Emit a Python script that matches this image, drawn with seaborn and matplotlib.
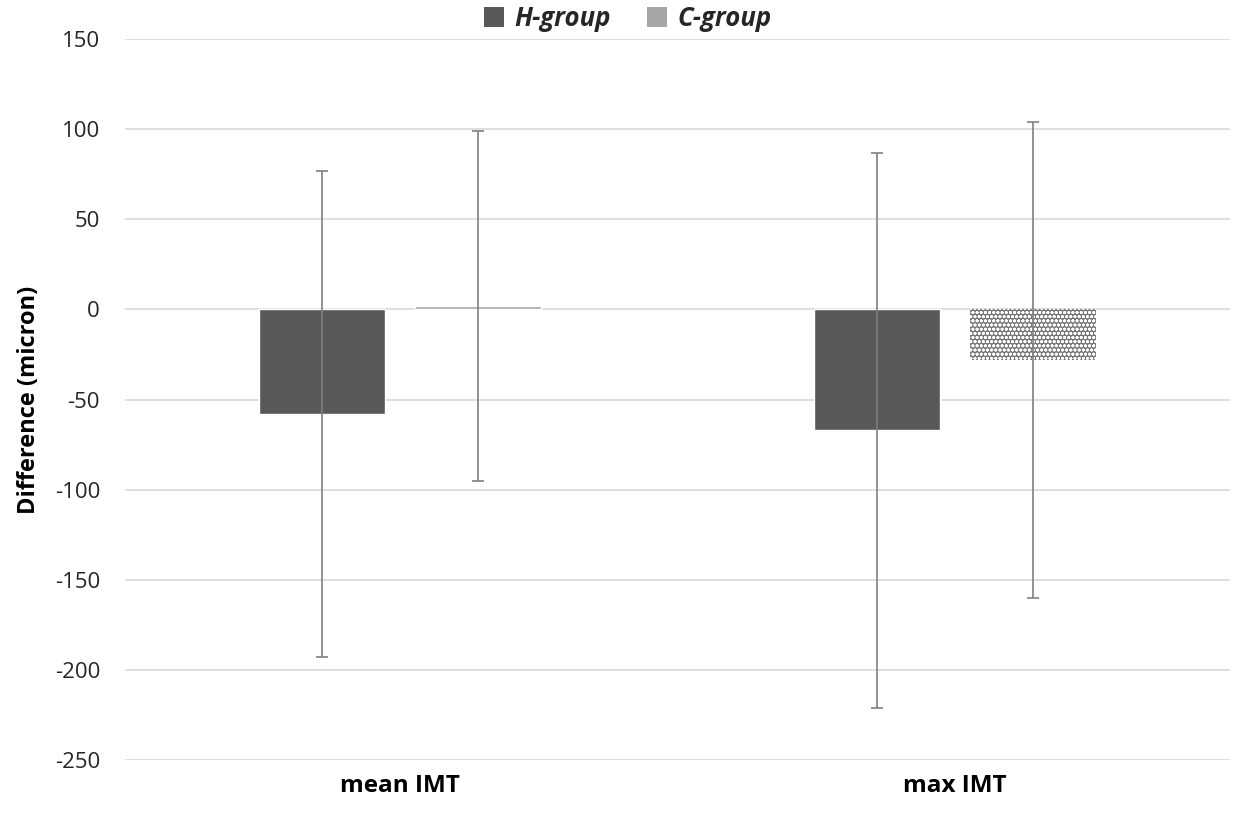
import numpy as np
import pandas as pd
import seaborn as sns
import matplotlib.pyplot as plt
from matplotlib.patches import Patch

# values
measures = ["mean IMT", "max IMT"]
groups = ["H-group", "C-group"]
h_means = [-58, -67]
c_means = [2, -28]
h_sd = [135, 154]
c_sd = [97, 132]
yticks = [150, 100, 50, 0, -50, -100, -150, -200, -250]

df = pd.DataFrame({
    "measure": measures * 2,
    "group": [groups[0]] * 2 + [groups[1]] * 2,
    "diff": h_means + c_means,
    "sd": h_sd + c_sd,
})

sns.set_style("white")
plt.rcParams["font.family"] = ["Open Sans", "DejaVu Sans"]
plt.rcParams["axes.unicode_minus"] = False
plt.rcParams["hatch.linewidth"] = 0.9
plt.rcParams["hatch.color"] = "#a8a8a8"

fig = plt.figure(figsize=(12.38, 8.14), dpi=100)
ax = fig.add_axes([0.101, 0.0663, 0.8925, 0.8857])

colors = {"H-group": "#595959", "C-group": "#a6a6a6"}
sns.barplot(data=df, x="measure", y="diff", hue="group", order=measures,
            hue_order=groups, palette=colors, width=0.56, gap=0.19,
            errorbar=None, legend=False, ax=ax, saturation=1, zorder=2)

# error bars on bar centres
for patch_group, grp in zip([ax.patches[:2], ax.patches[2:4]], groups):
    sub = df[df["group"] == grp]
    for p, (_, row) in zip(patch_group, sub.iterrows()):
        xc = p.get_x() + p.get_width() / 2
        ax.errorbar(xc, row["diff"], yerr=row["sd"], fmt="none",
                    ecolor="#7f7f7f", elinewidth=1.2, capsize=4,
                    capthick=1.2, zorder=3)

# dotted fill on the C-group max IMT bar
cmax = ax.patches[3]
cmax.set_facecolor("#767676")
cmax.set_hatch("oooo")
cmax.set_linewidth(0)

ax.set_ylim(-250, 150)
ax.set_xlim(-0.495, 1.495)
ax.set_yticks(yticks)
ax.yaxis.grid(True, color="#d9d9d9", linewidth=1.2, zorder=0)
ax.set_axisbelow(True)
for s in ax.spines.values():
    s.set_visible(False)
ax.tick_params(axis="both", length=0, colors="#262626", labelsize=16)
ax.tick_params(axis="y", pad=18)
ax.tick_params(axis="x", pad=10)
for lbl in ax.get_xticklabels():
    lbl.set_fontweight("bold")
    lbl.set_fontsize(17.5)
    lbl.set_color("black")
ax.set_xlabel("")
ax.set_ylabel("Difference (micron)", fontsize=17, fontweight="bold",
              color="black", labelpad=10)

handles = [Patch(facecolor=colors[g], edgecolor="none") for g in groups]
ax.legend(handles, groups, loc="lower center", bbox_to_anchor=(0.455, 0.985),
          ncol=2, frameon=False, handlelength=0.8, handleheight=0.8,
          handletextpad=0.4, columnspacing=1.4, borderpad=0.2,
          prop={"weight": "bold", "style": "italic", "size": 18.5})

fig.savefig("out.png", dpi=100)
